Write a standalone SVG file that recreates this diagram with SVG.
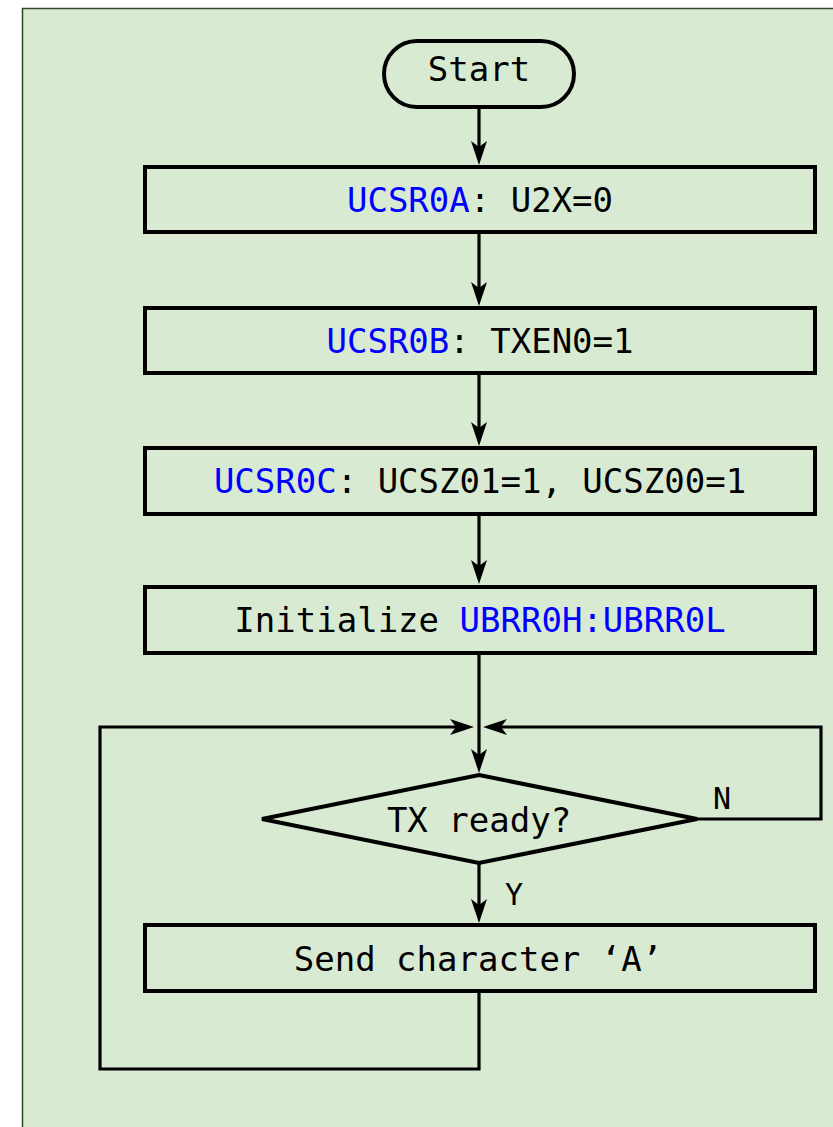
<svg xmlns="http://www.w3.org/2000/svg" width="833" height="1127" viewBox="0 0 833 1127">
  <style>
    .shape { fill: none; stroke: #000; stroke-width: 4; stroke-linejoin: miter; }
    .wire { fill: none; stroke: #000; stroke-width: 3.2; stroke-linejoin: miter; }
    .label { font-family: "DejaVu Sans Mono", "Liberation Mono", monospace; font-size: 34px; fill: #000; text-anchor: middle; }
    .tag { font-family: "DejaVu Sans Mono", "Liberation Mono", monospace; font-size: 30px; fill: #000; text-anchor: middle; }
    .reg { fill: #0000ff; }
  </style>
  <defs>
    <marker id="arrow" viewBox="0 0 24 16" refX="6" refY="8" markerWidth="24" markerHeight="16" markerUnits="userSpaceOnUse" orient="auto">
      <path d="M0,0 L24,8 L0,16 L6,8 Z" fill="#000"/>
    </marker>
  </defs>

  <!-- panel -->
  <rect x="0" y="0" width="833" height="1127" fill="#ffffff"/>
  <rect x="22.5" y="8.5" width="830" height="1130" fill="#d9ead3" stroke="#2e4a26" stroke-width="1.5"/>

  <!-- connectors -->
  <g id="connectors">
    <path class="wire" d="M479,107 V147" marker-end="url(#arrow)"/>
    <path class="wire" d="M479,232 V288" marker-end="url(#arrow)"/>
    <path class="wire" d="M479,373 V428" marker-end="url(#arrow)"/>
    <path class="wire" d="M479,514 V566" marker-end="url(#arrow)"/>
    <path class="wire" d="M479,653 V755" marker-end="url(#arrow)"/>
    <path class="wire" d="M479,863 V905" marker-end="url(#arrow)"/>
    <path class="wire" d="M697,819 H821 V727 H501" marker-end="url(#arrow)"/>
    <path class="wire" d="M479,991 V1069 H100 V727 H456" marker-end="url(#arrow)"/>
    <text class="tag" x="722" y="809">N</text>
    <text class="tag" x="514" y="905">Y</text>
  </g>

  <g id="start">
    <rect class="shape" x="384" y="41" width="190" height="66" rx="33" ry="33"/>
    <text class="label" x="479" y="81">Start</text>
  </g>

  <g id="set-ucsr0a">
    <rect class="shape" x="145" y="167" width="670" height="65"/>
    <text class="label" x="480" y="212"><tspan class="reg">UCSR0A</tspan>: U2X=0</text>
  </g>

  <g id="set-ucsr0b">
    <rect class="shape" x="145" y="308" width="670" height="65"/>
    <text class="label" x="480" y="353"><tspan class="reg">UCSR0B</tspan>: TXEN0=1</text>
  </g>

  <g id="set-ucsr0c">
    <rect class="shape" x="145" y="448" width="670" height="66"/>
    <text class="label" x="480" y="493"><tspan class="reg">UCSR0C</tspan>: UCSZ01=1, UCSZ00=1</text>
  </g>

  <g id="init-ubrr0">
    <rect class="shape" x="145" y="587" width="670" height="66"/>
    <text class="label" x="480" y="632">Initialize <tspan class="reg">UBRR0H:UBRR0L</tspan></text>
  </g>

  <g id="tx-ready">
    <polygon class="shape" points="479,775 697,819 479,863 262,819"/>
    <text class="label" x="479" y="832">TX ready?</text>
  </g>

  <g id="send-char">
    <rect class="shape" x="145" y="925" width="670" height="66"/>
    <text class="label" x="478" y="971">Send character ‘A’</text>
  </g>
</svg>
